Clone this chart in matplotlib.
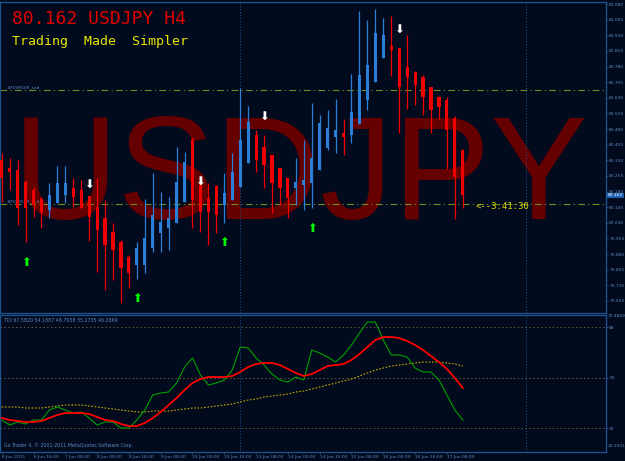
import matplotlib
matplotlib.use('Agg')
import matplotlib.pyplot as plt
import matplotlib.transforms as mtransforms

# ---------------- data ----------------
opens  = [80.332, 80.293, 80.284, 80.226, 80.188, 80.144, 80.092, 80.125, 80.164, 80.197,
          80.188, 80.159, 80.106, 80.053, 79.986, 79.938, 79.866, 79.828, 79.828, 79.909,
          79.981, 80.005, 80.029, 80.130, 80.427, 80.212, 80.149, 80.207, 80.116, 80.140,
          80.202, 80.317, 80.452, 80.394, 80.356, 80.293, 80.245, 80.197, 80.212, 80.221,
          80.284, 80.389, 80.442, 80.461, 80.452, 80.504, 80.619, 80.706, 80.821, 80.879,
          80.869, 80.778, 80.754, 80.730, 80.682, 80.634, 80.619, 80.533, 80.380]
highs  = [80.365, 80.341, 80.332, 80.236, 80.202, 80.154, 80.221, 80.303, 80.303, 80.245,
          80.236, 80.159, 80.245, 80.140, 80.029, 79.948, 79.876, 79.938, 80.144, 80.269,
          80.178, 80.154, 80.394, 80.370, 80.442, 80.221, 80.221, 80.212, 80.269, 80.365,
          80.677, 80.591, 80.476, 80.452, 80.356, 80.293, 80.245, 80.341, 80.427, 80.605,
          80.547, 80.571, 80.624, 80.528, 80.744, 81.046, 81.003, 81.056, 81.013, 81.022,
          80.869, 80.931, 80.759, 80.739, 80.682, 80.639, 80.634, 80.543, 80.384]
lows   = [80.130, 80.188, 80.020, 79.938, 80.058, 80.005, 80.053, 80.125, 80.125, 80.106,
          80.101, 79.943, 79.794, 79.708, 79.756, 79.645, 79.717, 79.761, 79.789, 79.890,
          79.890, 79.900, 80.029, 80.130, 80.005, 79.986, 79.924, 79.981, 80.029, 80.140,
          80.202, 80.317, 80.274, 80.197, 80.077, 80.116, 80.053, 80.116, 80.092, 80.101,
          80.284, 80.380, 80.365, 80.356, 80.413, 80.504, 80.571, 80.706, 80.821, 80.735,
          80.461, 80.576, 80.595, 80.547, 80.461, 80.528, 80.288, 80.048, 80.101]
closes = [80.245, 80.274, 80.101, 80.101, 80.116, 80.082, 80.164, 80.221, 80.221, 80.154,
          80.101, 80.058, 79.996, 79.924, 79.900, 79.813, 79.789, 79.909, 79.957, 80.068,
          80.034, 80.053, 80.226, 80.322, 80.140, 80.082, 80.082, 80.068, 80.173, 80.274,
          80.427, 80.514, 80.332, 80.308, 80.221, 80.197, 80.149, 80.226, 80.236, 80.341,
          80.509, 80.485, 80.476, 80.442, 80.562, 80.739, 80.787, 80.941, 80.931, 80.859,
          80.682, 80.730, 80.691, 80.634, 80.571, 80.586, 80.476, 80.250, 80.162]

tdi_green = [34.85, 33.07, 34.14, 33.43, 34.85, 34.85, 38.42, 39.49, 38.42, 37.35,
             37.71, 35.57, 33.07, 34.14, 34.14, 32.00, 32.00, 34.85, 38.42, 43.76,
             44.48, 44.83, 48.04, 53.74, 56.95, 50.89, 47.33, 48.04, 49.11, 52.67,
             60.87, 60.52, 56.95, 54.46, 51.25, 49.11, 48.40, 50.18, 49.11, 59.80,
             58.73, 57.31, 55.53, 58.02, 61.58, 65.86, 69.78, 69.78, 63.37, 58.02,
             58.02, 57.31, 53.39, 51.96, 51.96, 49.11, 43.76, 38.42, 34.85]
tdi_red = [35.57, 34.85, 34.50, 34.14, 34.14, 34.50, 35.57, 36.64, 37.35, 37.35,
           37.35, 37.00, 35.93, 34.85, 34.50, 33.43, 32.71, 32.71, 33.79, 35.57,
           37.71, 40.20, 42.70, 45.54, 48.04, 49.46, 50.18, 50.18, 50.18, 50.53,
           51.96, 53.74, 54.81, 55.17, 55.17, 54.45, 53.03, 51.60, 50.53, 51.25,
           52.67, 54.10, 54.45, 54.81, 56.24, 58.37, 60.87, 63.36, 64.43, 64.43,
           64.08, 63.01, 61.58, 59.80, 57.66, 55.52, 53.03, 49.82, 46.26]
tdi_yellow = [39.49, 39.49, 39.49, 39.13, 39.13, 39.13, 39.49, 39.84, 40.20, 40.20,
              40.20, 39.84, 39.49, 39.13, 38.77, 38.42, 38.06, 37.71, 37.71, 38.06,
              38.06, 38.06, 38.42, 38.77, 39.13, 39.13, 39.49, 39.84, 40.20, 40.56,
              41.27, 41.98, 42.34, 43.05, 43.41, 43.76, 44.12, 44.83, 45.19, 45.90,
              46.61, 47.33, 48.04, 48.75, 49.46, 50.53, 51.60, 52.67, 53.38, 54.10,
              54.45, 54.81, 55.17, 55.52, 55.52, 55.52, 55.17, 54.81, 54.10]

down_arrow_bars = [11, 25, 33, 50]
down_arrow_prices = [80.212, 80.226, 80.538, 80.955]
up_arrow_bars = [3, 17, 28, 39]
up_arrow_prices = [79.842, 79.669, 79.938, 80.005]

sr_levels = [80.667, 80.120]
price_ticks = [81.080 - 0.075 * k for k in range(20)]
date_ticks = list(range(0, 60, 4))
date_labels = ['6 Jun 2011', '6 Jun 16:00', '7 Jun 08:00', '8 Jun 00:00', '8 Jun 16:00',
               '9 Jun 08:00', '10 Jun 00:00', '10 Jun 16:00', '13 Jun 08:00', '14 Jun 00:00',
               '14 Jun 16:00', '15 Jun 08:00', '16 Jun 00:00', '16 Jun 16:00', '17 Jun 08:00']
tdi_levels = [68, 50, 32]
separator_bars = [30, 66]

# ---------------- style ----------------
BG = '#020a1e'
FRAME = '#1d5590'
LABEL = '#5a88c0'
BULL = '#2a7fd8'
BEAR = '#f00000'
W, H = 625, 461
TFS = 3.2

fig = plt.figure(figsize=(W / 100, H / 100), dpi=100, facecolor=BG)


def px_axes(l, t, r, b):
    return fig.add_axes([l / W, 1 - b / H, (r - l) / W, (b - t) / H])


ax = px_axes(0, 2, 606, 313)
ax2 = px_axes(0, 315, 606, 452)

x0, dx = 1.7, 7.95
xlim = (-x0 / dx, (606 - x0) / dx)

for a in (ax, ax2):
    a.set_facecolor(BG)
    a.set_xlim(*xlim)
    for s in a.spines.values():
        s.set_color(FRAME)
        s.set_linewidth(0.9)
    a.yaxis.tick_right()
    a.tick_params(axis='y', colors=FRAME, labelcolor=LABEL, labelsize=TFS, length=1.5, pad=0.8, width=0.6)
    for xb in separator_bars:
        a.axvline(xb, color=FRAME, lw=0.7, ls=(0, (1, 2)), zorder=1)

# ---------------- main panel ----------------
ax.set_ylim(79.5974, 81.0896)
ax.set_xticks([])
ax.set_yticks(price_ticks)
ax.set_yticklabels(['%.3f' % p for p in price_ticks])

ax.text(0.021, 0.302, 'USDJPY', transform=ax.transAxes, fontsize=105,
        family='Liberation Sans', color='#640000', ha='left', va='baseline', zorder=0)

for lvl in sr_levels:
    ax.axhline(lvl, color='#6e8f22', lw=0.8, ls=(0, (6, 3, 1, 3)), zorder=2)
for lvl in sr_levels:
    ax.text(0.6, lvl + 0.004, '#75SR509_sxd', fontsize=3.2, color=LABEL, va='bottom', zorder=3)

xs = list(range(len(opens)))
for i in xs:
    o, h, l, c = opens[i], highs[i], lows[i], closes[i]
    col = BULL if c >= o else BEAR
    ax.vlines(i, l, h, color=col, lw=0.9, zorder=4)
    ax.bar(i, abs(c - o) if abs(c - o) > 0.002 else 0.002, bottom=min(o, c),
           width=0.4, color=col, linewidth=0, zorder=5)

for b, p in zip(down_arrow_bars, down_arrow_prices):
    ax.text(b, p, '\u2B07', color='white', fontsize=8.5, ha='center', va='center', zorder=6)
for b, p in zip(up_arrow_bars, up_arrow_prices):
    ax.text(b, p, '\u2B06', color='#00ff00', fontsize=8.5, ha='center', va='center', zorder=6)

ax.text(59.6, 80.106, '<--3:41:30', color='#d8d800', fontsize=6.5, family='DejaVu Sans Mono',
        ha='left', va='center', zorder=6)

trans = mtransforms.blended_transform_factory(ax.transAxes, ax.transData)
ax.text(1.003, closes[-1], '%.3f' % closes[-1], transform=trans, fontsize=TFS, color='white',
        ha='left', va='center', zorder=7,
        bbox=dict(boxstyle='square,pad=0.15', facecolor='#1f62b0', edgecolor='none'))

fig.text(12 / W, 1 - 24 / H, '80.162 USDJPY H4', color='#e00000', fontsize=13,
         family='DejaVu Sans Mono', ha='left', va='baseline')
fig.text(12 / W, 1 - 45 / H, 'Trading  Made  Simpler', color='#e6e600', fontsize=9.5,
         family='DejaVu Sans Mono', ha='left', va='baseline')

# ---------------- TDI panel ----------------
ax2.set_ylim(23.45, 72.28)
ax2.set_yticks(tdi_levels)
ax2.set_yticklabels([str(v) for v in tdi_levels])
for v in tdi_levels:
    ax2.axhline(v, color='#6a5a3c', lw=0.7, ls=(0, (1.5, 2.5)), zorder=1)
ax2.plot(xs, tdi_yellow, color='#c8a800', lw=0.8, ls=(0, (1.5, 1.5)), zorder=3)
ax2.plot(xs, tdi_green, color='#00a000', lw=0.8, zorder=4)
ax2.plot(xs, tdi_red, color='#ff0000', lw=1.3, zorder=5)

ax2.text(1.003, 0.995, '72.4869', transform=ax2.transAxes, fontsize=TFS, color=LABEL, ha='left', va='center')
ax2.text(1.003, 0.045, '23.3931', transform=ax2.transAxes, fontsize=TFS, color=LABEL, ha='left', va='center')
ax2.text(0.006, 0.975, 'TDI 67.5820 54.1887 48.7938 35.2735 46.2869', transform=ax2.transAxes,
         fontsize=3.4, color=LABEL, ha='left', va='top')
ax2.text(0.006, 0.03, 'Go Trader 4, \u00a9 2001-2011 MetaQuotes Software Corp.', transform=ax2.transAxes,
         fontsize=3.4, color=LABEL, ha='left', va='bottom')

ax2.set_xticks(date_ticks)
ax2.set_xticklabels(date_labels)
ax2.tick_params(axis='x', colors=FRAME, labelcolor=LABEL, labelsize=TFS, length=1.5, pad=0.6, width=0.6)
for lab in ax2.get_xticklabels():
    lab.set_ha('left')

fig.savefig('out.png', dpi=100, facecolor=BG)
